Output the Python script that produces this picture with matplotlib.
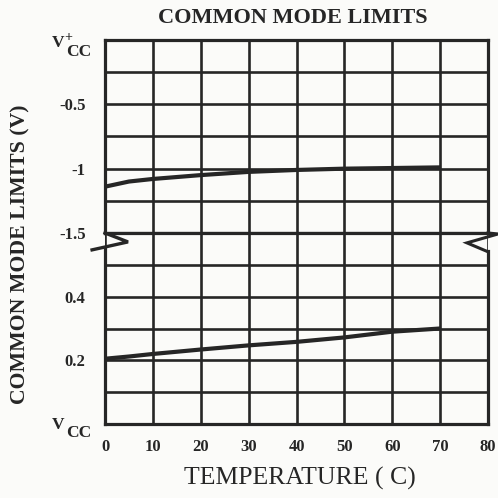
import matplotlib
matplotlib.use('Agg')
import matplotlib.pyplot as plt

# Data
temps = [0, 5, 10, 20, 30, 40, 50, 60, 70]
upper_limit = [-1.14, -1.10, -1.08, -1.05, -1.025, -1.01, -1.0, -0.995, -0.99]   # relative to V+cc
lower_limit = [0.205, 0.212, 0.22, 0.234, 0.247, 0.258, 0.272, 0.29, 0.30]     # relative to V-cc

x_ticks = [0, 10, 20, 30, 40, 50, 60, 70, 80]
upper_grid = [0, -0.25, -0.5, -0.75, -1.0, -1.25, -1.5]
upper_labels = ['', '', '-0.5', '', '-1', '', '-1.5']
lower_grid = [0, 0.1, 0.2, 0.3, 0.4, 0.5, 0.6]
lower_labels = ['', '', '0.2', '', '0.4', '', '']

plt.rcParams['font.family'] = 'Liberation Serif'
plt.rcParams['font.weight'] = 'bold'

ink = '#262626'
bg = '#fbfbf9'

fig = plt.figure(figsize=(4.98, 4.98), dpi=100, facecolor=bg)
left, right = 105 / 498, 488 / 498
top, mid, bot = 1 - 40 / 498, 1 - 233 / 498, 1 - 424 / 498
ax_up = fig.add_axes([left, mid, right - left, top - mid])
ax_lo = fig.add_axes([left, bot, right - left, mid - bot])

for ax, grid, labels in [(ax_up, upper_grid, upper_labels), (ax_lo, lower_grid, lower_labels)]:
    ax.set_facecolor(bg)
    ax.set_xlim(0, 80)
    ax.set_xticks(x_ticks)
    ax.set_yticks(grid)
    ax.set_yticklabels(labels)
    ax.set_ylim(min(grid), max(grid))
    ax.grid(True, color=ink, linewidth=1.9)
    ax.tick_params(length=0, labelsize=12, pad=14, colors=ink)
    for s in ax.spines.values():
        s.set_linewidth(2.3)
        s.set_color(ink)
        s.set_capstyle('projecting')
    ax.set_axisbelow(True)

ax_up.tick_params(labelbottom=False)
ax_lo.tick_params(axis='x', pad=11)
ax_up.plot(temps, upper_limit, color=ink, linewidth=3, solid_capstyle='butt')
ax_lo.plot(temps, lower_limit, color=ink, linewidth=3, solid_capstyle='butt')

# break marks on both sides of the split
ax_lo.spines['left'].set_bounds(0, 0.55)
ax_lo.spines['right'].set_bounds(0, 0.542)
ax_lo.plot([0, 4.8, -2.7], [0.6, 0.572, 0.547], color=ink, linewidth=2.4,
           clip_on=False, solid_joinstyle='miter')
ax_lo.plot([80, 82.1, 75.6, 80], [0.6, 0.597, 0.569, 0.541], color=ink, linewidth=2.2,
           clip_on=False, solid_joinstyle='miter')


# supply rail labels: V, raised '+', CC
def rail_label(ax, yval, v_dy, cc_dy, plus_dy=None):
    kw = dict(xycoords=('axes fraction', 'data'), textcoords='offset points',
              fontweight='bold', color=ink, va='center', ha='left')
    ax.annotate('V', (0, yval), xytext=(-38, v_dy), fontsize=12.5, **kw)
    ax.annotate('CC', (0, yval), xytext=(-28, cc_dy), fontsize=12.5, **kw)
    if plus_dy is not None:
        ax.annotate('+', (0, yval), xytext=(-29.5, plus_dy), fontsize=10, **kw)


rail_label(ax_up, 0, -2, -8.3, 1.5)
rail_label(ax_lo, 0, -0.6, -6.2)

fig.text(293 / 498, 1 - 18 / 498, 'COMMON MODE LIMITS', ha='center', va='center',
         fontsize=16, fontweight='bold', color=ink)
fig.text(20 / 498, 0.5 - 5 / 498, 'COMMON MODE LIMITS (V)', ha='center', va='center',
         rotation=90, fontsize=15.7, fontweight='bold', color=ink)
fig.text(300 / 498, 1 - 478 / 498, 'TEMPERATURE ( C)', ha='center', va='center',
         fontsize=18.5, fontweight='normal', color=ink)

fig.savefig('out.png', dpi=100, facecolor=bg)
